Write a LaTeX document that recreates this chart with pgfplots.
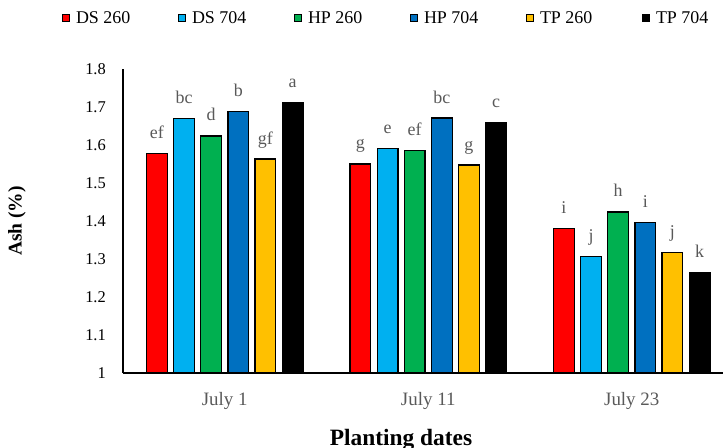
\documentclass[border=0pt]{standalone}
\usepackage{fontspec}
\setmainfont{Liberation Serif}
\usepackage{pgfplots}
\pgfplotsset{compat=1.18}
\definecolor{cDSa}{HTML}{FF0000}
\definecolor{cDSb}{HTML}{00B0F0}
\definecolor{cHPa}{HTML}{00B050}
\definecolor{cHPb}{HTML}{0070C0}
\definecolor{cTPa}{HTML}{FFC000}
\definecolor{cTPb}{HTML}{000000}
\definecolor{tickgray}{HTML}{595959}
\begin{document}
\begin{tikzpicture}
\path[use as bounding box] (-123bp,-75bp) rectangle (600bp,373bp);
\begin{axis}[
  scale only axis, width=610.5bp, height=304bp,
  at={(0,0)}, anchor=south west,
  xmin=-0.5, xmax=2.5, ymin=1, ymax=1.8,
  axis x line*=bottom, axis y line*=left,
  axis line style={line width=1.2bp, -},
  xtick={0,1,2}, xticklabels={July 1,July 11,July 23},
  ytick={1,1.1,1.2,1.3,1.4,1.5,1.6,1.7,1.8},
  major tick length=0pt,
  /pgf/number format/assume math mode=true,
  /pgf/number format/fixed,
  yticklabel style={font=\fontsize{16.5}{18}\selectfont, anchor=east, inner sep=0pt, xshift=-17bp},
  xticklabel style={font=\fontsize{19}{21}\selectfont, text=tickgray, anchor=base, inner sep=0pt, yshift=-32bp},
  ylabel={Ash (\%)},
  ylabel style={font=\fontsize{19.5}{22}\selectfont\bfseries, at={(axis description cs:-0.1736,0.5)}, anchor=center},
  xlabel={Planting dates},
  xlabel style={font=\fontsize{23.5}{26}\selectfont\bfseries, at={(axis description cs:0.4554,-0.2401)}, anchor=base},
  ybar, bar width=0.1017,
  every axis plot/.append style={draw=black, line width=1.3bp},
  nodes near coords, point meta=explicit symbolic,
  every node near coord/.append style={font=\fontsize{18}{20}\selectfont, text=tickgray, anchor=base, inner sep=0pt, yshift=15bp},
  legend columns=6,
  legend style={draw=none, fill=none, inner sep=0pt, outer sep=0pt,
    font=\fontsize{18}{20}\selectfont,
    at={(axis description cs:-0.0999,1.1678)}, anchor=west,
    /tikz/every odd column/.append style={column sep=6bp},
    /tikz/every even column/.append style={column sep=0bp},
    nodes={inner sep=0pt}},
  legend image code/.code={\draw[#1,draw=black,line width=1bp] (0bp,-3.5bp) rectangle (7bp,3.5bp);},
]
\addplot[fill=cDSa, bar shift=-0.3333] coordinates {(0,1.578) [ef] (1,1.550) [g] (2,1.380) [i]};
\addlegendentry{\makebox[102bp][l]{DS 260}}
\addplot[fill=cDSb, bar shift=-0.2] coordinates {(0,1.670) [bc] (1,1.590) [e] (2,1.307) [j]};
\addlegendentry{\makebox[102bp][l]{DS 704}}
\addplot[fill=cHPa, bar shift=-0.0667] coordinates {(0,1.624) [d] (1,1.586) [ef] (2,1.424) [h]};
\addlegendentry{\makebox[102bp][l]{HP 260}}
\addplot[fill=cHPb, bar shift=0.0667] coordinates {(0,1.688) [b] (1,1.671) [bc] (2,1.396) [i]};
\addlegendentry{\makebox[102bp][l]{HP 704}}
\addplot[fill=cTPa, bar shift=0.2] coordinates {(0,1.563) [gf] (1,1.547) [g] (2,1.318) [j]};
\addlegendentry{\makebox[102bp][l]{TP 260}}
\addplot[fill=cTPb, bar shift=0.3333] coordinates {(0,1.712) [a] (1,1.660) [c] (2,1.264) [k]};
\addlegendentry{\makebox[102bp][l]{TP 704}}
\end{axis}
\end{tikzpicture}
\end{document}
